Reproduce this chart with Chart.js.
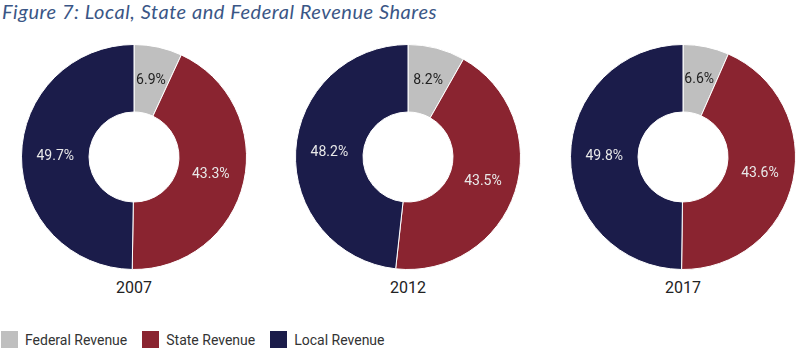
<!DOCTYPE html>
<html>
<head>
<meta charset="utf-8">
<script src="https://cdn.jsdelivr.net/npm/chart.js@4"></script>
<style>
  body { margin: 0; background: #fff; width: 800px; height: 354px; position: relative; overflow: hidden; font-family: Roboto, sans-serif; }
  .title { position: absolute; left: 2px; top: -1px; font: italic 20px Lato, sans-serif; letter-spacing: 0.55px; color: #3a5686; white-space: nowrap; }
  .pie { position: absolute; top: 44px; width: 226px; height: 226px; }
  .year { position: absolute; top: 278px; width: 120px; text-align: center; font-size: 16px; color: #222; }
  .legend { position: absolute; left: 1px; top: 331px; display: flex; font-size: 14px; color: #333; }
  .legend span { display: flex; align-items: center; margin-right: 15px; }
  .legend i { display: inline-block; width: 17px; height: 17px; margin-right: 7px; }
</style>
</head>
<body>
<div class="title">Figure 7: Local, State and Federal Revenue Shares</div>
<div id="charts"></div>
<div class="legend" id="legend"></div>
<script>
const categories = ["Federal Revenue", "State Revenue", "Local Revenue"];
const years = ["2007", "2012", "2017"];
const shares2007 = [6.9, 43.3, 49.7];
const shares2012 = [8.2, 43.5, 48.2];
const shares2017 = [6.6, 43.6, 49.8];
const colors = ["#bfbfbf", "#8a2430", "#1b1c4a"];
const labelColors = ["#222222", "#e8e8e8", "#e8e8e8"];
const centers = [134, 408, 683];

const series = [shares2007, shares2012, shares2017];
const holder = document.getElementById("charts");

const sliceLabels = {
  id: "sliceLabels",
  afterDatasetsDraw(chart) {
    const ctx = chart.ctx;
    const meta = chart.getDatasetMeta(0);
    ctx.save();
    ctx.font = "14px Roboto, sans-serif";
    ctx.textAlign = "center";
    ctx.textBaseline = "middle";
    meta.data.forEach((arc, i) => {
      const pos = arc.tooltipPosition();
      ctx.fillStyle = labelColors[i];
      ctx.fillText(chart.data.datasets[0].data[i].toFixed(1) + "%", pos.x, pos.y);
    });
    ctx.restore();
  },
};

series.forEach((values, k) => {
  const box = document.createElement("div");
  box.className = "pie";
  box.style.left = (centers[k] - 113) + "px";
  const canvas = document.createElement("canvas");
  box.appendChild(canvas);
  holder.appendChild(box);

  const year = document.createElement("div");
  year.className = "year";
  year.style.left = (centers[k] - 60) + "px";
  year.textContent = years[k];
  holder.appendChild(year);

  new Chart(canvas, {
    type: "doughnut",
    data: {
      labels: categories,
      datasets: [{ data: values, backgroundColor: colors, borderColor: "#ffffff", borderWidth: 1 }],
    },
    options: {
      responsive: true,
      maintainAspectRatio: false,
      animation: false,
      cutout: "40%",
      layout: { padding: 0 },
      plugins: { legend: { display: false }, tooltip: { enabled: false } },
    },
    plugins: [sliceLabels],
  });
});

const legend = document.getElementById("legend");
categories.forEach((name, i) => {
  legend.innerHTML += `<span><i style="background:${colors[i]}"></i>${name}</span>`;
});
</script>
</body>
</html>
